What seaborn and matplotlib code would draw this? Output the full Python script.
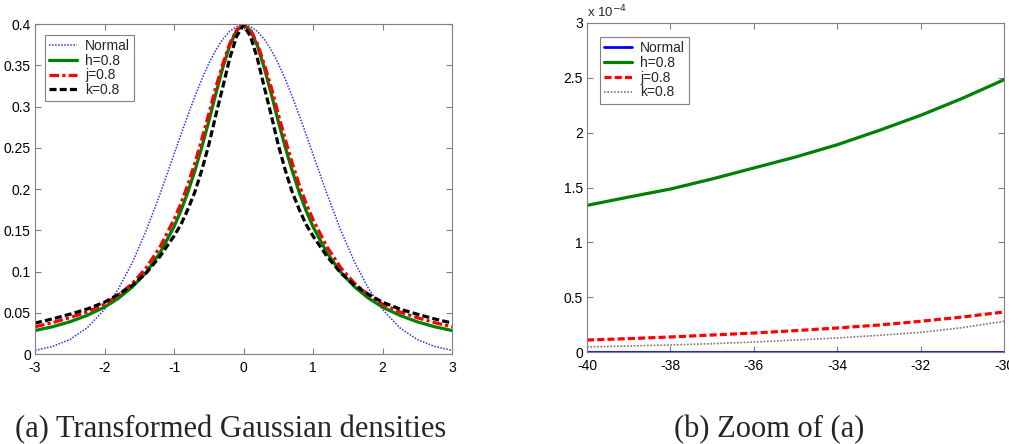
import numpy as np
import pandas as pd
import matplotlib
matplotlib.use("Agg")
import matplotlib.pyplot as plt
import seaborn as sns
from matplotlib.ticker import FuncFormatter

# (a) densities on [-3, 3]
x_a = [-3.0, -2.75, -2.5, -2.25, -2.0, -1.8, -1.6, -1.4, -1.2, -1.0,
       -0.9, -0.8, -0.7, -0.6, -0.5, -0.4, -0.3, -0.2, -0.1, 0.0,
       0.1, 0.2, 0.3, 0.4, 0.5, 0.6, 0.7, 0.8, 0.9, 1.0,
       1.2, 1.4, 1.6, 1.8, 2.0, 2.25, 2.5, 2.75, 3.0]
normal_a = [0.0044, 0.0091, 0.0175, 0.0317, 0.0540, 0.0790, 0.1109, 0.1497, 0.1942, 0.2420,
            0.2661, 0.2897, 0.3123, 0.3332, 0.3521, 0.3683, 0.3814, 0.3910, 0.3970, 0.3989,
            0.3970, 0.3910, 0.3814, 0.3683, 0.3521, 0.3332, 0.3123, 0.2897, 0.2661, 0.2420,
            0.1942, 0.1497, 0.1109, 0.0790, 0.0540, 0.0317, 0.0175, 0.0091, 0.0044]
h_a = [0.0285, 0.0330, 0.0390, 0.0468, 0.0568, 0.0675, 0.0812, 0.0990, 0.1228, 0.1543,
       0.1739, 0.1964, 0.2221, 0.2509, 0.2820, 0.3149, 0.3465, 0.3736, 0.3922, 0.3989,
       0.3922, 0.3736, 0.3465, 0.3149, 0.2820, 0.2509, 0.2221, 0.1964, 0.1739, 0.1543,
       0.1228, 0.0990, 0.0812, 0.0675, 0.0568, 0.0468, 0.0390, 0.0330, 0.0285]
j_a = [0.0330, 0.0380, 0.0440, 0.0510, 0.0605, 0.0715, 0.0855, 0.1045, 0.1300, 0.1630,
       0.1827, 0.2056, 0.2315, 0.2605, 0.2910, 0.3230, 0.3510, 0.3760, 0.3930, 0.3989,
       0.3930, 0.3760, 0.3510, 0.3230, 0.2910, 0.2605, 0.2315, 0.2056, 0.1827, 0.1630,
       0.1300, 0.1045, 0.0855, 0.0715, 0.0605, 0.0510, 0.0440, 0.0380, 0.0330]
k_a = [0.0375, 0.0425, 0.0482, 0.0545, 0.0628, 0.0722, 0.0832, 0.0982, 0.1185, 0.1430,
       0.1570, 0.1755, 0.1965, 0.2230, 0.2535, 0.2890, 0.3230, 0.3580, 0.3850, 0.3989,
       0.3850, 0.3580, 0.3230, 0.2890, 0.2535, 0.2230, 0.1965, 0.1755, 0.1570, 0.1430,
       0.1185, 0.0982, 0.0832, 0.0722, 0.0628, 0.0545, 0.0482, 0.0425, 0.0375]

# (b) zoom on [-40, -30], values in units of 1e-4
x_b = [-40, -39, -38, -37, -36, -35, -34, -33, -32, -31, -30]
normal_b = [0, 0, 0, 0, 0, 0, 0, 0, 0, 0, 0]
h_b = [1.337, 1.413, 1.486, 1.578, 1.678, 1.778, 1.890, 2.020, 2.158, 2.313, 2.483]
j_b = [0.109, 0.122, 0.137, 0.155, 0.173, 0.195, 0.219, 0.246, 0.280, 0.319, 0.365]
k_b = [0.046, 0.055, 0.064, 0.076, 0.091, 0.109, 0.128, 0.152, 0.179, 0.222, 0.280]

labels = ["Normal", "h=0.8", "j=0.8", "k=0.8"]

sns.set_style("ticks")
plt.rcParams["font.family"] = ["Liberation Sans", "DejaVu Sans"]
plt.rcParams["axes.unicode_minus"] = False
plt.rcParams["xtick.direction"] = "in"
plt.rcParams["ytick.direction"] = "in"
plt.rcParams["xtick.top"] = True
plt.rcParams["ytick.right"] = True

fig = plt.figure(figsize=(10.09, 4.44), dpi=100)
ax1 = fig.add_axes([0.0347, 0.2027, 0.4133, 0.7432])
ax2 = fig.add_axes([0.5818, 0.2072, 0.4133, 0.7410])

styles_a = [
    dict(color="#3030ff", linestyle=(0, (1, 1)), linewidth=1.1),
    dict(color="#008000", linestyle="-", linewidth=2.3),
    dict(color="#ff0000", linestyle=(0, (3, 1, 1, 1)), linewidth=2.3),
    dict(color="black", linestyle=(0, (2.2, 1)), linewidth=2.3),
]
for y, lab, st in zip([normal_a, h_a, j_a, k_a], labels, styles_a):
    sns.lineplot(x=x_a, y=y, ax=ax1, label=lab, sort=False, **st)

styles_b = [
    dict(color="#0000ff", linestyle="-", linewidth=2.0),
    dict(color="#008000", linestyle="-", linewidth=2.3),
    dict(color="#ff0000", linestyle=(0, (2.2, 1)), linewidth=2.3),
    dict(color="#777777", linestyle=(0, (1, 1)), linewidth=1.2),
]
for y, lab, st in zip([normal_b, h_b, j_b, k_b], labels, styles_b):
    sns.lineplot(x=x_b, y=y, ax=ax2, label=lab, sort=False, **st)

ax1.set_xlim(-3, 3)
ax1.set_ylim(0, 0.4)
ax1.set_xticks(np.arange(-3, 4, 1))
ax1.set_yticks(np.arange(0, 0.41, 0.05))
ax1.yaxis.set_major_formatter(FuncFormatter(lambda v, p: "%g" % round(v, 2)))

ax2.set_xlim(-40, -30)
ax2.set_ylim(0, 3)
ax2.set_xticks(np.arange(-40, -29, 2))
ax2.set_yticks(np.arange(0, 3.1, 0.5))
ax2.yaxis.set_major_formatter(FuncFormatter(lambda v, p: "%g" % v))
ax2.text(0.0, 1.008, r"x 10$^{-4}$", transform=ax2.transAxes, fontsize=9.5, va="bottom", ha="left")

for ax in (ax1, ax2):
    for sp in ax.spines.values():
        sp.set_visible(True)
        sp.set_color("#808080")
        sp.set_linewidth(0.8)
    ax.tick_params(labelsize=10, length=4, color="#808080", labelcolor="black")
    ax.tick_params(axis="x", pad=5)
    ax.tick_params(axis="y", pad=3)
    ax.set_xlabel("")
    ax.set_ylabel("")

leg_kw = dict(loc="upper left", fontsize=10, frameon=True, fancybox=False,
              edgecolor="#808080", framealpha=1, handlelength=2.0, handletextpad=0.6,
              borderpad=0.3, labelspacing=0.05, borderaxespad=0)
leg1 = ax1.legend(bbox_to_anchor=(0.024, 0.967), **leg_kw)
leg2 = ax2.legend(bbox_to_anchor=(0.031, 0.957), **leg_kw)
for leg in (leg1, leg2):
    leg.get_frame().set_linewidth(0.8)

fig.text(0.229, 0.0158, "(a) Transformed Gaussian densities", ha="center", va="baseline",
         fontsize=22, family=["Liberation Serif", "DejaVu Serif"])
fig.text(0.7627, 0.0158, "(b) Zoom of (a)", ha="center", va="baseline",
         fontsize=22, family=["Liberation Serif", "DejaVu Serif"])

fig.savefig("out.png", dpi=100, facecolor="white")
